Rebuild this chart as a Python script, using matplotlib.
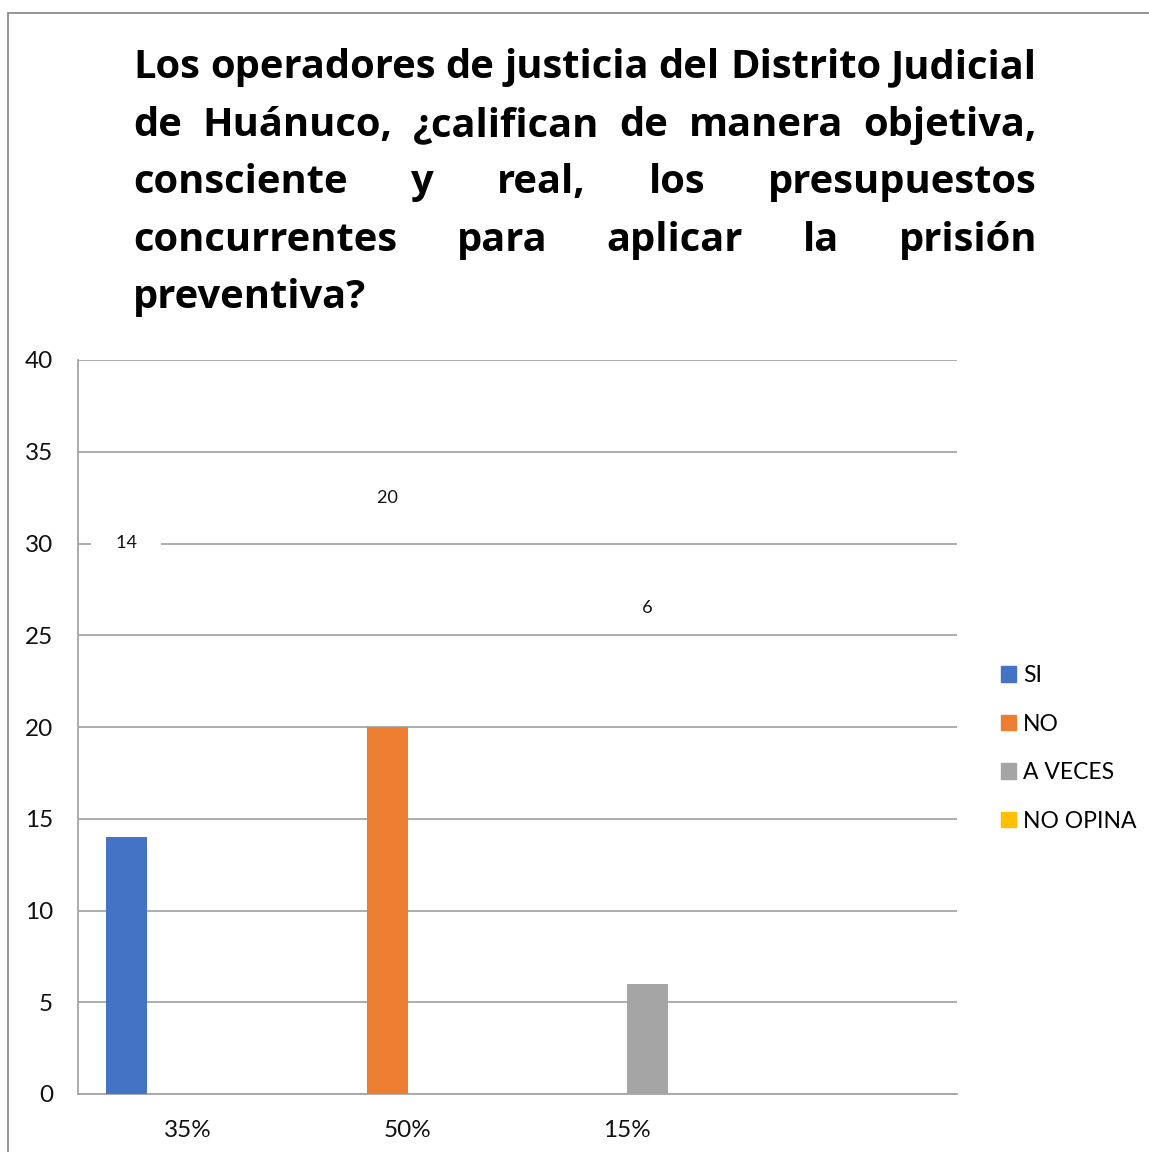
import matplotlib.pyplot as plt
import matplotlib.patches as mpatches
import numpy as np

plt.rcParams['font.family'] = ['Lato', 'DejaVu Sans']

# data
categorias = ["35%", "50%", "15%", ""]
series = ["SI", "NO", "A VECES", "NO OPINA"]
valores = {
    "SI": [14, 0, 0, 0],
    "NO": [0, 20, 0, 0],
    "A VECES": [0, 0, 6, 0],
    "NO OPINA": [0, 0, 0, 0],
}
colores = ["#4472C4", "#ED7D31", "#A5A5A5", "#FFC000"]
# data labels (value shown, category, height where Excel put them)
etiquetas = [14, 20, 6]
etiqueta_cat = [0, 1, 2]
etiqueta_y = [30.0, 32.5, 26.5]

titulo = [
    "Los operadores de justicia del Distrito Judicial",
    "de Huánuco, ¿califican de manera objetiva,",
    "consciente y real, los presupuestos",
    "concurrentes para aplicar la prisión",
    "preventiva?",
]

W, H = 1149, 1152
fig = plt.figure(figsize=(W / 100, H / 100), dpi=100)
ax = fig.add_axes([78 / W, 1 - 1094 / H, (957 - 78) / W, (1094 - 360) / H])

x = np.arange(len(categorias))
ancho = 0.186
offsets = [-0.28, -0.093, 0.093, 0.28]
for i, s in enumerate(series):
    ax.bar(x + offsets[i], valores[s], ancho, color=colores[i], label=s, zorder=3)

for v, c, y in zip(etiquetas, etiqueta_cat, etiqueta_y):
    xi = c + offsets[c]
    ax.text(xi, y, f"     {v}     ", ha='center', va='center', fontsize=13,
            color='#111111', zorder=4,
            bbox=dict(facecolor='white', edgecolor='none', pad=1))

ax.set_xlim(-0.5, 3.5)
ax.set_ylim(0, 40)
ax.set_yticks(np.arange(0, 41, 5))
ax.set_xticks(x)
ax.set_xticklabels(categorias)
ax.tick_params(length=0, labelsize=17.5, colors='#111111')
ax.tick_params(axis='x', pad=19)
ax.tick_params(axis='y', pad=18)
ax.grid(axis='y', color='#a6a6a6', lw=1.3, zorder=0)
for sp in ['top', 'right']:
    ax.spines[sp].set_visible(False)
for sp in ['left', 'bottom']:
    ax.spines[sp].set_color('#a6a6a6')
    ax.spines[sp].set_linewidth(1.3)

handles = [mpatches.Patch(color=c) for c in colores]
fig.legend(handles, series, loc='upper left', bbox_to_anchor=(992 / W, 1 - 656 / H),
           frameon=False, fontsize=16.5, handlelength=0.65, handleheight=0.65,
           handletextpad=0.3, labelspacing=1.2, borderaxespad=0)

# outer frame of the chart
fig.patches.append(mpatches.Rectangle((8 / W, -0.1), 2, 1 - 13 / H + 0.1,
                                      transform=fig.transFigure, fill=False,
                                      edgecolor='#8c8c8c', lw=1.3))

# justified title, placed word by word
renderer = fig.canvas.get_renderer()
x0, x1 = 133, 1037
bases = [78, 136, 193, 251, 308]
tfam = ['Open Sans', 'DejaVu Sans']


def ancho_txt(s, size):
    t = fig.text(0, 0, s, fontsize=size, fontweight='bold', family=tfam)
    w = t.get_window_extent(renderer).width
    t.remove()
    return w


# size so that the first line fits the width with normal spaces
tsize = 28 * (x1 - x0) / ancho_txt(titulo[0], 28)
sp_normal = ancho_txt("a a", tsize) - ancho_txt("aa", tsize)

for n, (linea, yb) in enumerate(zip(titulo, bases)):
    palabras = linea.split()
    textos = [fig.text(0, 1 - yb / H, p, fontsize=tsize, fontweight='bold',
                       family=tfam, va='baseline', ha='left') for p in palabras]
    anchos = [t.get_window_extent(renderer).width for t in textos]
    if n == len(titulo) - 1 or len(palabras) == 1:
        sp = sp_normal
    else:
        sp = (x1 - x0 - sum(anchos)) / (len(palabras) - 1)
    pos = x0
    for t, w in zip(textos, anchos):
        t.set_x(pos / W)
        pos += w + sp

fig.savefig("out.png", dpi=100)
